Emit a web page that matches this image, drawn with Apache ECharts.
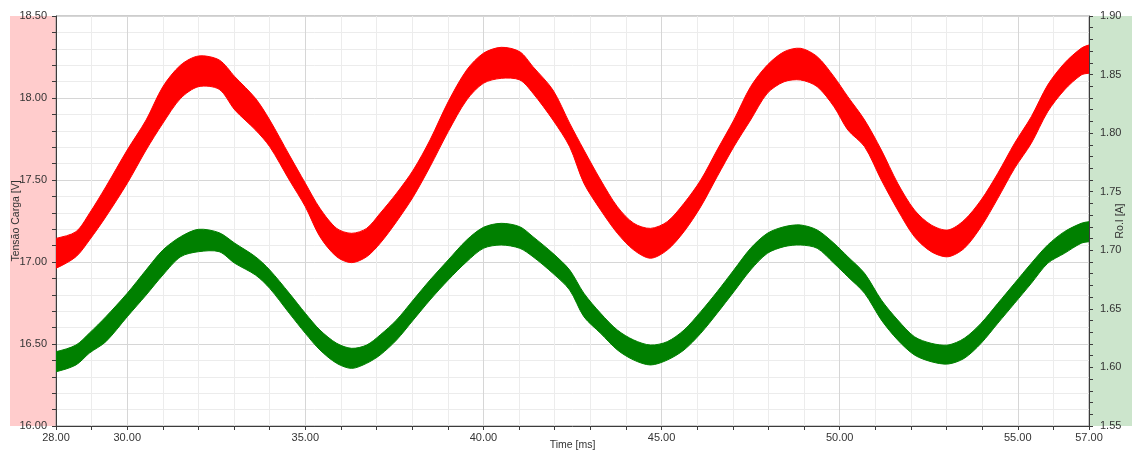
<!DOCTYPE html>
<html>
<head>
<meta charset="utf-8">
<script src="https://cdn.jsdelivr.net/npm/echarts@6/dist/echarts.min.js"></script>
<style>
  html, body { margin: 0; padding: 0; background: #fff; }
  #chart { width: 1132px; height: 452px; }
</style>
</head>
<body>
<div id="chart"></div>
<script>
// Sample times [ms]
const timeMs = [28.00, 28.56, 28.94, 29.40, 30.00, 30.53, 31.00, 31.50, 32.00, 32.58,
  33.02, 33.60, 34.00, 34.55, 35.00, 35.41, 35.88, 36.30, 36.72, 37.10,
  37.56, 38.03, 38.50, 39.01, 39.53, 40.00, 40.50, 41.02, 41.39, 41.95,
  42.42, 42.82, 43.29, 43.76, 44.22, 44.69, 45.16, 45.63, 46.10, 46.56,
  47.03, 47.50, 47.97, 48.44, 48.90, 49.37, 49.84, 50.23, 50.70, 51.17,
  51.63, 52.10, 52.57, 53.04, 53.50, 53.97, 54.44, 54.91, 55.38, 55.84,
  56.31, 56.78, 57.00];

// Tensão Carga [V] — upper and lower envelope of the ripple band
const voltageUpper = [17.144, 17.185, 17.297, 17.459, 17.683, 17.866, 18.069, 18.201, 18.256, 18.232,
  18.130, 17.998, 17.866, 17.652, 17.480, 17.327, 17.205, 17.175, 17.205, 17.297,
  17.419, 17.561, 17.744, 17.977, 18.171, 18.273, 18.309, 18.282, 18.191, 18.049,
  17.846, 17.683, 17.500, 17.337, 17.236, 17.205, 17.246, 17.358, 17.500, 17.683,
  17.866, 18.069, 18.201, 18.282, 18.303, 18.252, 18.130, 18.008, 17.866, 17.683,
  17.480, 17.317, 17.226, 17.195, 17.256, 17.378, 17.541, 17.724, 17.886, 18.079,
  18.212, 18.303, 18.323];
const voltageLower = [16.962, 17.032, 17.134, 17.276, 17.480, 17.683, 17.846, 17.998, 18.069, 18.053,
  17.927, 17.805, 17.703, 17.500, 17.337, 17.154, 17.032, 16.996, 17.032, 17.114,
  17.246, 17.398, 17.581, 17.795, 17.988, 18.090, 18.120, 18.110, 18.029, 17.866,
  17.703, 17.480, 17.317, 17.175, 17.073, 17.023, 17.073, 17.185, 17.337, 17.520,
  17.703, 17.866, 18.029, 18.099, 18.110, 18.069, 17.947, 17.805, 17.703, 17.500,
  17.317, 17.154, 17.063, 17.032, 17.084, 17.215, 17.388, 17.571, 17.724, 17.916,
  18.049, 18.140, 18.151];

// Ro.I [A] — upper and lower envelope of the ripple band
const currentUpper = [1.6134, 1.6191, 1.6294, 1.6433, 1.6633, 1.6832, 1.7002, 1.7116, 1.7179, 1.7150,
  1.7060, 1.6945, 1.6832, 1.6633, 1.6462, 1.6319, 1.6206, 1.6163, 1.6191, 1.6277,
  1.6405, 1.6576, 1.6746, 1.6917, 1.7088, 1.7196, 1.7230, 1.7201, 1.7116, 1.6974,
  1.6832, 1.6633, 1.6462, 1.6319, 1.6234, 1.6191, 1.6220, 1.6319, 1.6476, 1.6646,
  1.6832, 1.7017, 1.7145, 1.7201, 1.7216, 1.7173, 1.7060, 1.6945, 1.6803, 1.6576,
  1.6405, 1.6262, 1.6206, 1.6191, 1.6249, 1.6377, 1.6547, 1.6718, 1.6889, 1.7045,
  1.7159, 1.7230, 1.7244];
const currentLower = [1.5963, 1.6021, 1.6123, 1.6220, 1.6433, 1.6618, 1.6789, 1.6945, 1.6988, 1.6988,
  1.6889, 1.6789, 1.6675, 1.6462, 1.6291, 1.6149, 1.6035, 1.5992, 1.6035, 1.6106,
  1.6234, 1.6405, 1.6576, 1.6746, 1.6903, 1.7017, 1.7045, 1.7017, 1.6945, 1.6803,
  1.6661, 1.6433, 1.6291, 1.6149, 1.6063, 1.6021, 1.6063, 1.6149, 1.6291, 1.6462,
  1.6646, 1.6832, 1.6974, 1.7031, 1.7045, 1.7017, 1.6889, 1.6774, 1.6633, 1.6405,
  1.6234, 1.6106, 1.6049, 1.6029, 1.6078, 1.6206, 1.6377, 1.6547, 1.6718, 1.6889,
  1.6974, 1.7060, 1.7073];

// Labelled ticks
const timeLabels = [28, 30, 35, 40, 45, 50, 55, 57];
const voltageLabels = [16.0, 16.5, 17.0, 17.5, 18.0, 18.5];
const currentLabels = [1.55, 1.60, 1.65, 1.70, 1.75, 1.80, 1.85, 1.90];

const RED = '#ff0000';
const GREEN = '#008000';
const GRID_MINOR = '#ececec';
const GRID_MAJOR = '#d6d6d6';
const AXIS_DARK = '#3c3c3c';
const FONT = 'Liberation Sans, Arial, sans-serif';

function inList(list, v) {
  return list.some(function (t) { return Math.abs(t - v) < 1e-6; });
}
function bandRows(xs, upper, lower) {
  return xs.map(function (x, i) { return [x, upper[i], lower[i]]; });
}

// Draws a filled ripple band as one smoothed outline: upper envelope
// left→right, lower envelope back; the grid clips the rounded ends.
function bandRenderer(xs, upper, lower, color) {
  return function (params, api) {
    if (params.dataIndex !== 0) return null;
    const top = xs.map(function (x, i) { return api.coord([x, upper[i]]); });
    const bottom = xs.map(function (x, i) { return api.coord([x, lower[i]]); });
    // pad each end a little outside the plot so rounding stays hidden
    const n = xs.length - 1;
    const padL = [[top[0][0] - 6, top[0][1]]];
    const padR = [[top[n][0] + 6, top[n][1]], [bottom[n][0] + 6, bottom[n][1]]];
    const pts = padL.concat(top, padR, bottom.slice().reverse(), [[bottom[0][0] - 6, bottom[0][1]]]);
    return {
      type: 'polygon',
      shape: { points: pts, smooth: 0.3 },
      style: { fill: color, stroke: color, lineWidth: 1 }
    };
  };
}

const labelStyle = { color: '#333', fontSize: 11, fontFamily: FONT };
const nameStyle = { color: '#333', fontSize: 10.5, fontFamily: FONT };

const chart = echarts.init(document.getElementById('chart'), null, { renderer: 'canvas' });

chart.setOption({
  animation: false,
  backgroundColor: '#ffffff',
  graphic: {
    elements: [
      { type: 'rect', z: -10, shape: { x: 10, y: 16, width: 46, height: 410 }, style: { fill: '#ffcccc' } },
      { type: 'rect', z: -10, shape: { x: 1089, y: 16, width: 43, height: 410 }, style: { fill: '#cce5cc' } }
    ]
  },
  grid: {
    left: 56, right: 43, top: 16, bottom: 26,
    containLabel: false,
    outerBoundsMode: 'none',
    show: true, borderColor: '#9a9a9a', borderWidth: 1, backgroundColor: '#ffffff'
  },
  xAxis: {
    type: 'value',
    min: 28, max: 57, interval: 1,
    name: 'Time [ms]',
    nameLocation: 'middle',
    nameGap: 14,
    nameMoveOverlap: false,
    nameTextStyle: nameStyle,
    axisLine: { show: true, onZero: false, lineStyle: { color: AXIS_DARK, width: 1 } },
    axisTick: { show: true, length: 4, lineStyle: { color: AXIS_DARK } },
    axisLabel: Object.assign({
      margin: 6,
      formatter: function (v) { return inList(timeLabels, v) ? v.toFixed(2) : ''; }
    }, labelStyle),
    splitLine: { show: true, lineStyle: { color: [GRID_MINOR, GRID_MINOR, GRID_MAJOR, GRID_MINOR, GRID_MINOR], width: 1 } }
  },
  yAxis: [
    {
      type: 'value',
      min: 16, max: 18.5, interval: 0.1,
      position: 'left',
      name: 'Tensão Carga [V]',
      nameLocation: 'middle',
      nameGap: 34,
      nameMoveOverlap: false,
      nameTextStyle: nameStyle,
      axisLine: { show: true, lineStyle: { color: AXIS_DARK, width: 1 } },
      axisTick: { show: true, length: 4, lineStyle: { color: AXIS_DARK } },
      axisLabel: Object.assign({
        margin: 9,
        formatter: function (v) { return inList(voltageLabels, v) ? v.toFixed(2) : ''; }
      }, labelStyle),
      splitLine: { show: true, lineStyle: { color: [GRID_MAJOR, GRID_MINOR, GRID_MINOR, GRID_MINOR, GRID_MINOR], width: 1 } }
    },
    {
      type: 'value',
      min: 1.55, max: 1.9, interval: 0.01,
      position: 'right',
      name: 'Ro.I [A]',
      nameLocation: 'middle',
      nameGap: 26,
      nameMoveOverlap: false,
      nameTextStyle: nameStyle,
      axisLine: { show: true, lineStyle: { color: AXIS_DARK, width: 1 } },
      axisTick: { show: true, length: 4, lineStyle: { color: AXIS_DARK } },
      axisLabel: Object.assign({
        margin: 11,
        formatter: function (v) { return inList(currentLabels, v) ? v.toFixed(2) : ''; }
      }, labelStyle),
      splitLine: { show: false }
    }
  ],
  series: [
    {
      name: 'Tensão Carga [V]', type: 'custom', yAxisIndex: 0, silent: true, clip: true,
      encode: { x: 0, y: [1, 2] },
      renderItem: bandRenderer(timeMs, voltageUpper, voltageLower, RED),
      data: bandRows(timeMs, voltageUpper, voltageLower)
    },
    {
      name: 'Ro.I [A]', type: 'custom', yAxisIndex: 1, silent: true, clip: true,
      encode: { x: 0, y: [1, 2] },
      renderItem: bandRenderer(timeMs, currentUpper, currentLower, GREEN),
      data: bandRows(timeMs, currentUpper, currentLower)
    }
  ]
});
</script>
</body>
</html>
